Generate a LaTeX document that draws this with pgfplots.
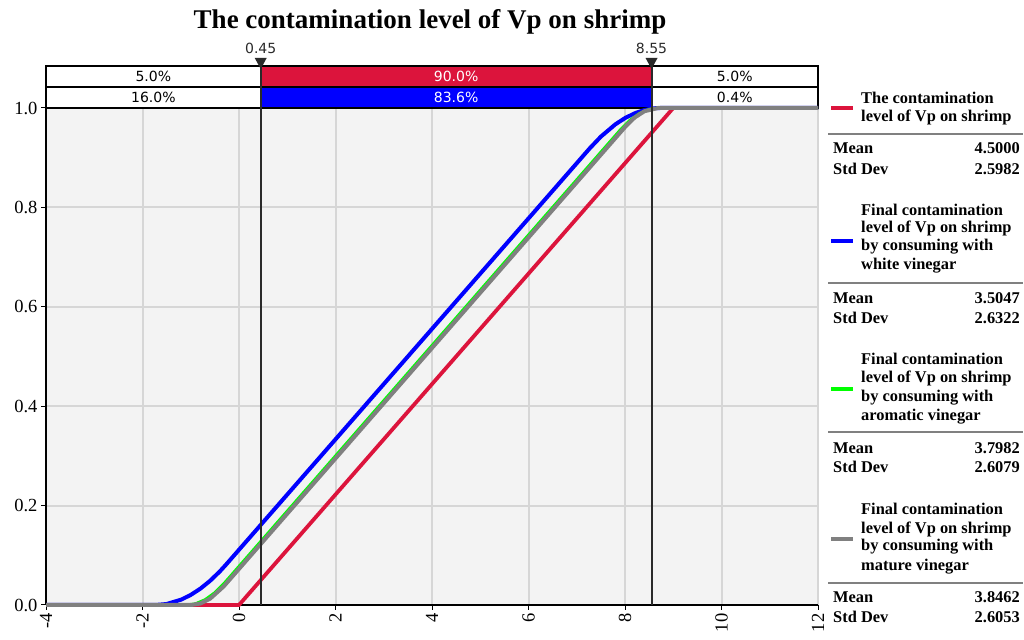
\documentclass[border=0pt]{standalone}
\usepackage{pgfplots}
\pgfplotsset{compat=1.18}
\usepackage{fontspec}
\setmainfont{Liberation Serif}
\newfontfamily\tahoma{DejaVu Sans}
\definecolor{vpred}{HTML}{DC143C}
\definecolor{vpblue}{HTML}{0000FF}
\definecolor{vpgreen}{HTML}{00FF00}
\definecolor{vpgray}{HTML}{808080}
\definecolor{bgcol}{HTML}{F3F3F3}
\definecolor{gridcol}{HTML}{D6D6D6}
\definecolor{mk}{HTML}{2A2A2A}
\newcommand{\legfont}{\fontsize{16.4}{19}\selectfont\bfseries}
\newcommand{\pc}{\tahoma\fontsize{14}{16}\selectfont}
\begin{document}
\begin{tikzpicture}[x=1pt,y=1pt]
\useasboundingbox (0,0) rectangle (1024,639);
\begin{axis}[
  at={(46pt,34pt)}, anchor=south west, scale only axis,
  width=772pt, height=497pt,
  xmin=-4, xmax=12, ymin=0, ymax=1,
  clip=false,
  axis lines*=left,
  axis line style={black, line width=1.2pt},
  axis background/.style={fill=bgcol},
  grid=major, grid style={gridcol, line width=2pt},
  xtick={-4,-2,...,12}, ytick={0,0.2,0.4,0.6,0.8,1.0},
  tick align=outside, major tick length=5pt,
  tick style={black, line width=1pt},
  /pgf/number format/assume math mode=true,
  yticklabel style={font=\fontsize{18.5}{18.5}\selectfont, /pgf/number format/.cd, fixed, fixed zerofill, precision=1},
  xticklabel style={font=\fontsize{18.5}{18.5}\selectfont, rotate=90, anchor=east},
]
% percentage bars
\draw[line width=1.5pt, fill=white] (axis cs:-4,1.0) rectangle (axis cs:12,1.0845);
\fill[vpred] (axis cs:0.45,1.0423) rectangle (axis cs:8.55,1.0845);
\fill[vpblue] (axis cs:0.45,1.0) rectangle (axis cs:8.55,1.0423);
\draw[line width=1.8pt] (axis cs:-4,1.0) rectangle (axis cs:12,1.0845);
\draw[line width=1.5pt] (axis cs:-4,1.0423) -- (axis cs:12,1.0423);
\node[font=\pc] at (axis cs:-1.775,1.0634) {5.0\%};
\node[font=\pc, text=white] at (axis cs:4.5,1.0634) {90.0\%};
\node[font=\pc] at (axis cs:10.275,1.0634) {5.0\%};
\node[font=\pc] at (axis cs:-1.775,1.0212) {16.0\%};
\node[font=\pc, text=white] at (axis cs:4.5,1.0212) {83.6\%};
\node[font=\pc] at (axis cs:10.275,1.0212) {0.4\%};
% curves
\addplot[vpred, line width=3.8pt] coordinates {(-4,0) (0,0) (9,1) (12,1)};
\addplot[vpblue, line width=4pt] coordinates {(-4,0) (-1.73,0) (-1.5,0.0020) (-1.2,0.0107) (-1.0,0.0203) (-0.8,0.0329) (-0.6,0.0486) (-0.4,0.0673) (-0.27,0.0811) (7.27,0.9189) (7.5,0.9424) (7.8,0.9671) (8.0,0.9797) (8.2,0.9893) (8.4,0.9959) (8.6,0.9994) (8.73,1) (12,1)};
\addplot[vpgreen, line width=2.8pt] coordinates {(-4,0) (-1.093,0) (-0.9,0.0026) (-0.7,0.0110) (-0.5,0.0250) (-0.31,0.0435) (7.907,0.9566) (8.1,0.9753) (8.3,0.9892) (8.5,0.9974) (8.69,1) (12,1)};
\addplot[vpgray, line width=4pt] coordinates {(-4,0) (-0.99,0) (-0.8,0.0030) (-0.6,0.0126) (-0.318,0.0373) (8.01,0.9627) (8.2,0.9808) (8.4,0.9934) (8.682,1) (12,1)};
% markers
\draw[mk, line width=2pt] (axis cs:0.45,0) -- (axis cs:0.45,1.0845);
\draw[mk, line width=2pt] (axis cs:8.55,0) -- (axis cs:8.55,1.0845);
\fill[mk] (axis cs:0.326,1.1006) -- (axis cs:0.574,1.1006) -- (axis cs:0.45,1.0785) -- cycle;
\fill[mk] (axis cs:8.426,1.1006) -- (axis cs:8.674,1.1006) -- (axis cs:8.55,1.0785) -- cycle;
\node[font=\pc, text=mk] at (axis cs:0.45,1.1207) {0.45};
\node[font=\pc, text=mk] at (axis cs:8.55,1.1207) {8.55};
\end{axis}
% title
\node[anchor=base, font=\fontsize{27}{30}\selectfont\bfseries] at (430,610) {The contamination level of Vp on shrimp};
% legend
\begin{scope}[every node/.style={font=\legfont, inner sep=0pt}]
% entry 1
\draw[vpred, line width=3.5pt] (831,531) -- (853,531);
\node[anchor=west] at (861,541) {The contamination};
\node[anchor=west] at (861,522) {level of Vp on shrimp};
\draw[vpgray, line width=2pt] (828,505) -- (1023,505);
\node[anchor=west] at (833,491) {Mean};
\node[anchor=east] at (1020,491) {4.5000};
\node[anchor=west] at (833,470) {Std Dev};
\node[anchor=east] at (1020,470) {2.5982};
% entry 2
\draw[vpblue, line width=3.5pt] (831,398) -- (853,398);
\node[anchor=west] at (861,429) {Final contamination};
\node[anchor=west] at (861,411) {level of Vp on shrimp};
\node[anchor=west] at (861,392) {by consuming with};
\node[anchor=west] at (861,373) {white vinegar};
\draw[vpgray, line width=2pt] (828,356) -- (1023,356);
\node[anchor=west] at (833,341) {Mean};
\node[anchor=east] at (1020,341) {3.5047};
\node[anchor=west] at (833,321) {Std Dev};
\node[anchor=east] at (1020,321) {2.6322};
% entry 3
\draw[vpgreen, line width=3.5pt] (831,250) -- (853,250);
\node[anchor=west] at (861,280) {Final contamination};
\node[anchor=west] at (861,261) {level of Vp on shrimp};
\node[anchor=west] at (861,241) {by consuming with};
\node[anchor=west] at (861,222) {aromatic vinegar};
\draw[vpgray, line width=2pt] (828,207) -- (1023,207);
\node[anchor=west] at (833,191) {Mean};
\node[anchor=east] at (1020,191) {3.7982};
\node[anchor=west] at (833,172) {Std Dev};
\node[anchor=east] at (1020,172) {2.6079};
% entry 4
\draw[vpgray, line width=3.5pt] (831,100) -- (853,100);
\node[anchor=west] at (861,130) {Final contamination};
\node[anchor=west] at (861,110) {level of Vp on shrimp};
\node[anchor=west] at (861,92) {by consuming with};
\node[anchor=west] at (861,72) {mature vinegar};
\draw[vpgray, line width=2pt] (828,56) -- (1023,56);
\node[anchor=west] at (833,42) {Mean};
\node[anchor=east] at (1020,42) {3.8462};
\node[anchor=west] at (833,22) {Std Dev};
\node[anchor=east] at (1020,22) {2.6053};
\end{scope}
\end{tikzpicture}
\end{document}
